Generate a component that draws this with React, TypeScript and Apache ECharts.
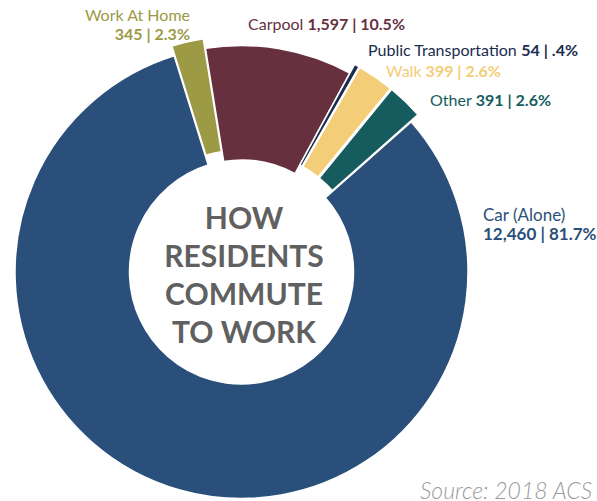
import React, { useEffect, useRef } from "react";
import * as echarts from "echarts";

const categories = ["Work At Home", "Carpool", "Public Transportation", "Walk", "Other", "Car (Alone)"];
const values = [345, 1597, 54, 399, 391, 12460];
const colors = ["#9c9a45", "#66303f", "#1b2c4e", "#f3cd78", "#165c5e", "#2a4f7a"];
const exploded = [true, false, true, true, true, false];
const centerLines = ["HOW", "RESIDENTS", "COMMUTE", "TO WORK"];
const sourceText = "Source: 2018 ACS";

const total = values.reduce((a, b) => a + b, 0);
const fmtNum = (v: number) => v.toLocaleString("en-US");
const fmtPct = (v: number) => ((v / total) * 100).toFixed(1).replace(/^0/, "") + "%";
const valText = (i: number) => `${fmtNum(values[i])} | ${fmtPct(values[i])}`;

// label placement: [x, y (block centre), align, twoLines, fontSize]
const labelPos: [number, number, string, boolean, number][] = [
  [190, 24, "right", true, 16],
  [248, 23, "left", false, 16],
  [368, 49, "left", false, 16],
  [386, 70, "left", false, 16],
  [430, 99, "left", false, 16],
  [483, 224, "left", true, 17],
];

const FONT = "Lato, 'Open Sans', sans-serif";

export default function App() {
  const ref = useRef<HTMLDivElement>(null);
  useEffect(() => {
    if (!ref.current) return;
    const chart = echarts.init(ref.current, null, { renderer: "svg" });
    const labels: any[] = categories.map((name, i) => {
      const [x, y, align, two, fs] = labelPos[i];
      const text = two ? `{n|${name}}\n{b|${valText(i)}}` : `{n|${name}} {b|${valText(i)}}`;
      return {
        type: "text",
        x,
        y,
        style: {
          text,
          align,
          verticalAlign: "middle",
          fontFamily: FONT,
          fontSize: fs,
          fill: colors[i],
          lineHeight: 19,
          rich: {
            n: { fontFamily: FONT, fontSize: fs, fill: colors[i], lineHeight: 19, align },
            b: { fontFamily: FONT, fontSize: fs, fontWeight: "bold", fill: colors[i], lineHeight: 19, align },
          },
        },
      };
    });
    chart.setOption({
      animation: false,
      series: [
        {
          type: "pie",
          center: [241.5, 272],
          radius: [112, 226.5],
          startAngle: 107.3,
          clockwise: true,
          selectedMode: "multiple",
          selectedOffset: 10,
          label: { show: false },
          labelLine: { show: false },
          emphasis: { disabled: true },
          itemStyle: { borderColor: "#ffffff", borderWidth: 1.5 },
          data: categories.map((name, i) => ({
            name,
            value: values[i],
            selected: exploded[i],
            itemStyle: { color: colors[i] },
          })),
        },
      ],
      graphic: [
        ...labels,
        {
          type: "text",
          x: 244,
          y: 274,
          style: {
            text: centerLines.join("\n"),
            align: "center",
            verticalAlign: "middle",
            fontFamily: FONT,
            fontSize: 30,
            fontWeight: "bold",
            lineHeight: 38,
            fill: "#606060",
          },
        },
        {
          type: "text",
          x: 420,
          y: 490,
          style: {
            text: sourceText,
            align: "left",
            verticalAlign: "middle",
            fontFamily: FONT,
            fontSize: 23,
            fontStyle: "italic",
            fontWeight: 300,
            fill: "#9a9a9a",
          },
        },
      ],
    });
    return () => chart.dispose();
  }, []);
  return <div ref={ref} style={{ position: "absolute", left: 0, top: 0, width: 597, height: 501 }} />;
}
